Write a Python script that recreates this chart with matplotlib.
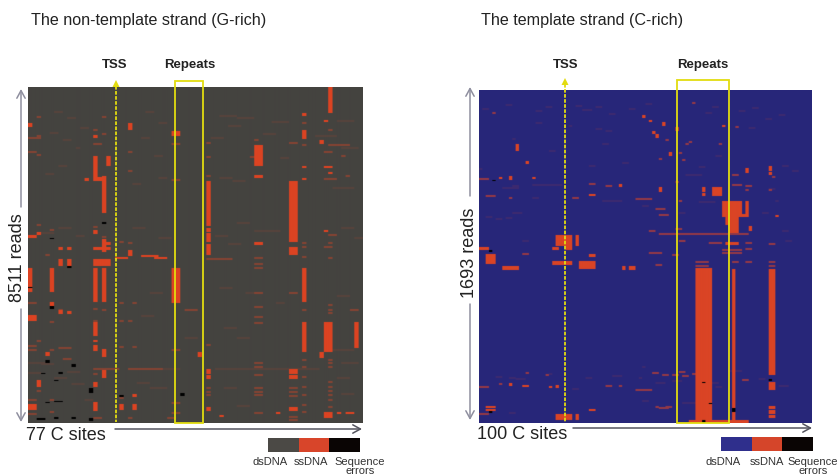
import numpy as np
import matplotlib
matplotlib.use("Agg")
import matplotlib.pyplot as plt
from matplotlib.colors import LinearSegmentedColormap
from matplotlib.patches import Rectangle

plt.rcParams['font.family'] = ['Liberation Sans', 'DejaVu Sans']

W, H = 838, 477

# non-template strand: 77 sites, reads binned to 336 rows
g_sites = 77
g_rows = 336
# first site, last site, first row, last row
g_blocks = [
    (0, 0, 36, 40), (15, 15, 48, 51), (15, 15, 69, 94), (15, 16, 90, 94), (17, 17, 89, 126),
    (18, 18, 69, 79), (13, 13, 91, 94), (23, 23, 36, 43), (33, 34, 44, 49),
    (0, 1, 148, 151), (2, 2, 145, 148), (15, 15, 143, 147), (17, 17, 152, 165), (15, 18, 160, 163),
    (18, 18, 155, 158), (7, 7, 160, 163), (9, 9, 160, 163), (23, 23, 163, 169), (20, 22, 170, 172),
    (26, 29, 168, 170), (29, 31, 170, 172),
    (0, 0, 181, 205), (5, 5, 181, 205), (15, 15, 181, 215), (17, 17, 181, 215), (33, 34, 181, 216),
    (15, 18, 172, 179), (7, 7, 172, 179), (9, 9, 172, 179), (5, 5, 215, 219), (7, 7, 223, 227),
    (9, 9, 224, 227), (0, 1, 228, 234), (15, 15, 235, 249), (15, 15, 253, 255), (15, 15, 258, 264),
    (17, 17, 262, 270), (4, 4, 265, 269), (2, 2, 293, 300), (15, 15, 295, 300), (17, 17, 283, 291),
    (0, 1, 317, 323), (15, 15, 315, 324), (21, 21, 317, 323), (24, 24, 317, 323), (24, 24, 307, 310),
    (39, 39, 265, 270), (41, 41, 94, 139), (41, 41, 141, 145), (41, 41, 146, 155), (41, 41, 157, 168),
    (41, 41, 282, 287), (41, 41, 288, 292), (41, 41, 320, 324),
    (52, 53, 58, 79), (52, 53, 88, 91), (52, 53, 155, 158),
    (60, 61, 94, 155), (60, 61, 160, 168), (60, 61, 282, 287), (60, 61, 288, 292), (60, 61, 320, 324),
    (63, 63, 26, 29), (63, 63, 43, 52), (63, 63, 79, 81), (63, 63, 91, 93), (63, 63, 181, 215),
    (63, 63, 235, 265), (69, 69, 0, 26), (68, 68, 33, 35), (67, 67, 53, 57), (68, 69, 79, 81),
    (69, 69, 85, 87), (68, 68, 143, 145), (68, 69, 235, 265), (67, 67, 265, 271), (75, 75, 235, 261),
    (68, 69, 325, 331), (71, 71, 325, 327), (73, 74, 325, 327), (57, 57, 325, 327), (44, 44, 328, 330),
]
# first site, last site, row: thin but clear lines
g_lines = [
    (2, 2, 29), (15, 15, 42), (15, 16, 56), (17, 17, 46), (17, 17, 29), (0, 1, 64), (2, 2, 67), (23, 23, 64),
    (23, 23, 83), (33, 34, 56), (33, 34, 92), (2, 2, 48), (0, 2, 50), (17, 17, 135), (15, 15, 139), (2, 2, 137),
    (5, 5, 142), (23, 23, 155), (21, 21, 154), (17, 17, 149), (4, 4, 167), (41, 41, 55), (41, 41, 69), (41, 41, 88),
    (52, 52, 52), (51, 51, 69), (60, 61, 55), (69, 73, 57), (68, 69, 64), (68, 70, 91), (73, 73, 88), (72, 72, 68),
    (63, 63, 35), (63, 63, 57), (69, 69, 42), (69, 70, 147), (68, 69, 159), (69, 69, 155), (69, 69, 170),
    (63, 63, 155), (63, 63, 159), (63, 63, 169), (52, 53, 170), (60, 61, 134), (60, 61, 143), (41, 46, 171),
    (0, 1, 215), (5, 5, 234), (7, 7, 222), (15, 15, 221), (15, 15, 233), (21, 21, 215), (24, 24, 215), (21, 21, 233),
    (23, 23, 233), (17, 17, 222), (2, 2, 253), (0, 1, 258), (0, 1, 262), (5, 5, 262), (7, 8, 260), (9, 9, 260),
    (21, 21, 259), (24, 24, 259), (33, 34, 262), (8, 9, 271), (15, 20, 281), (23, 30, 281), (36, 38, 222),
    (52, 53, 176), (52, 53, 180), (52, 53, 205), (52, 53, 219), (52, 53, 229), (52, 53, 235), (52, 53, 275), (52, 53, 279),
    (52, 53, 287), (52, 53, 300), (52, 53, 304), (52, 53, 307), (52, 53, 325), (60, 61, 205), (60, 61, 300), (60, 61, 304),
    (60, 61, 308), (60, 61, 329), (60, 61, 332), (63, 63, 222), (63, 63, 272), (63, 63, 279), (63, 63, 289), (63, 63, 299),
    (63, 63, 307), (63, 63, 317), (63, 63, 324), (69, 69, 217), (69, 69, 222), (69, 69, 225), (69, 69, 272), (69, 69, 275),
    (69, 69, 279), (69, 69, 294), (69, 69, 299), (69, 69, 303), (69, 69, 307), (69, 69, 312), (69, 69, 319), (74, 75, 222),
    (41, 41, 257), (41, 41, 300), (41, 41, 304), (41, 41, 307), (33, 34, 315), (33, 34, 325), (32, 33, 330), (23, 23, 330),
    (21, 21, 310), (0, 1, 312), (0, 1, 326), (5, 5, 324), (2, 2, 303), (5, 5, 312), (15, 15, 286), (15, 16, 330),
]
# first site, last site, row: faint traces
g_faint = [
    (6, 7, 24), (9, 10, 30), (12, 13, 40), (5, 6, 45), (8, 9, 52), (11, 11, 60), (7, 8, 78), (4, 5, 86), (27, 28, 24),
    (30, 31, 35), (26, 27, 50), (29, 30, 68), (24, 25, 96), (30, 31, 90), (44, 47, 28), (48, 51, 30), (42, 44, 50),
    (46, 48, 38), (56, 59, 34), (66, 70, 48), (71, 74, 33), (72, 75, 60), (54, 56, 46), (58, 59, 70), (44, 46, 90),
    (47, 49, 93), (48, 50, 135), (43, 45, 148), (52, 57, 143), (46, 48, 156), (70, 74, 100), (72, 74, 140), (75, 76, 150),
    (3, 5, 145), (7, 9, 140), (11, 12, 148), (24, 26, 140), (30, 32, 150), (44, 46, 200), (50, 52, 205), (57, 58, 215),
    (45, 47, 240), (48, 50, 250), (71, 73, 208), (70, 74, 262), (28, 30, 205), (26, 28, 228), (36, 38, 250), (43, 66, 281),
    (31, 34, 281), (72, 75, 275), (71, 73, 290), (45, 47, 300), (48, 50, 318), (25, 27, 295), (28, 31, 300), (9, 11, 284),
    (6, 8, 290), (3, 5, 276), (10, 12, 296), (13, 14, 312), (72, 74, 306), (0, 3, 275), (0, 2, 285),
]
g_errors = [
    (0, 0, 200, 201), (17, 17, 135, 137), (5, 5, 151, 152), (9, 9, 179, 181), (5, 5, 219, 222), (4, 4, 273, 276),
    (10, 10, 277, 280), (3, 3, 286, 287), (14, 14, 301, 306), (21, 21, 308, 310), (35, 35, 306, 309), (4, 4, 315, 316),
    (6, 7, 314, 315), (2, 3, 331, 333), (6, 6, 330, 332), (14, 14, 331, 334), (10, 10, 330, 332), (6, 6, 293, 294),
    (7, 7, 285, 287),
]

# template strand: 100 sites, reads binned to 333 rows
c_sites = 100
c_rows = 333
c_blocks = [
    (11, 11, 54, 61), (14, 14, 71, 74), (9, 9, 86, 90), (6, 6, 87, 89), (16, 16, 87, 89), (42, 42, 94, 97), (33, 34, 104, 106),
    (49, 49, 25, 28), (23, 27, 145, 156), (29, 29, 145, 156), (22, 23, 157, 160), (26, 27, 156, 160), (33, 34, 164, 167),
    (0, 2, 157, 160), (2, 4, 164, 174), (22, 27, 171, 175), (30, 34, 171, 179), (7, 11, 176, 180), (43, 43, 176, 180), (45, 46, 176, 180),
    (51, 51, 30, 32), (55, 55, 32, 36), (52, 52, 41, 44), (53, 53, 44, 48), (59, 59, 37, 41), (57, 57, 62, 66), (73, 73, 35, 37),
    (54, 54, 97, 102), (67, 67, 97, 102), (67, 67, 103, 106), (70, 72, 97, 106), (73, 78, 111, 127), (74, 77, 127, 135), (75, 77, 135, 143),
    (80, 80, 111, 127), (79, 80, 124, 127), (81, 81, 136, 141), (80, 80, 78, 83), (87, 87, 76, 81), (87, 87, 82, 85), (89, 89, 125, 127),
    (65, 69, 178, 333), (76, 76, 179, 318), (76, 76, 322, 333), (87, 88, 179, 285), (87, 88, 292, 300), (87, 88, 316, 319), (87, 88, 320, 324),
    (87, 88, 325, 328), (70, 80, 330, 333), (63, 64, 330, 333), (74, 77, 152, 155), (23, 27, 324, 330), (29, 29, 324, 330), (2, 4, 316, 318),
    (2, 4, 319, 321), (33, 34, 319, 321), (9, 9, 293, 296), (13, 14, 295, 297), (21, 21, 296, 298), (23, 23, 295, 298),
]
c_lines = [
    (4, 4, 22), (0, 2, 88), (33, 34, 93), (38, 39, 95), (2, 4, 105), (9, 9, 107), (47, 51, 108), (28, 29, 107), (56, 56, 49),
    (54, 54, 68), (60, 60, 62), (61, 61, 69), (62, 62, 53), (63, 63, 51), (64, 64, 12), (72, 72, 53), (77, 77, 36), (76, 77, 84),
    (54, 64, 143), (65, 69, 143), (70, 80, 143), (69, 72, 152), (73, 78, 159), (73, 78, 162), (65, 68, 171), (65, 68, 175), (76, 77, 171),
    (87, 88, 171), (87, 88, 175), (53, 54, 174), (13, 14, 163), (0, 2, 296), (6, 6, 293), (14, 14, 282), (20, 20, 284), (47, 51, 299),
    (42, 42, 295), (38, 39, 295), (0, 2, 323), (88, 88, 86), (80, 81, 95), (76, 78, 94), (80, 80, 99), (87, 87, 99), (54, 56, 124),
    (60, 60, 110), (59, 59, 91), (53, 55, 118), (59, 60, 138), (51, 52, 140), (80, 81, 152), (80, 81, 158), (87, 88, 153), (80, 81, 171),
    (60, 61, 150), (51, 54, 162), (58, 59, 164), (52, 53, 282), (55, 56, 284), (60, 61, 281), (61, 62, 285), (64, 64, 283), (79, 80, 289),
    (56, 57, 316), (53, 53, 316), (54, 56, 317), (58, 59, 284),
]
c_faint = [
    (1, 2, 18), (8, 9, 14), (17, 18, 20), (20, 21, 16), (29, 30, 15), (31, 33, 19), (35, 36, 16), (39, 40, 23), (45, 46, 18), (50, 51, 13),
    (7, 11, 97), (16, 24, 94), (37, 42, 110), (10, 12, 122), (27, 27, 35), (35, 36, 38), (38, 39, 40), (43, 44, 72), (33, 34, 75), (10, 10, 48),
    (17, 18, 32), (21, 22, 60), (37, 38, 53), (0, 0, 78), (5, 6, 128), (8, 9, 127), (13, 14, 150), (10, 11, 95), (16, 17, 107), (71, 72, 65),
    (66, 67, 76), (62, 66, 84), (81, 82, 37), (82, 83, 17), (78, 79, 20), (68, 69, 22), (70, 71, 16), (86, 87, 28), (91, 92, 75), (90, 91, 24),
    (85, 86, 122), (91, 92, 140), (87, 88, 98), (92, 93, 150), (89, 89, 110), (66, 70, 111), (60, 61, 122), (94, 95, 80), (2, 3, 126), (49, 50, 115),
    (5, 6, 286), (9, 10, 287), (11, 13, 288), (32, 33, 287), (40, 42, 285), (49, 49, 276), (48, 48, 287), (49, 50, 310), (28, 29, 298), (21, 21, 283),
    (75, 78, 280), (58, 60, 290), (70, 71, 292), (61, 64, 312), (9, 10, 322), (53, 55, 292), (71, 72, 296), (84, 85, 288), (90, 92, 295),
]
c_errors = [(4, 4, 90, 91), (3, 3, 160, 162), (3, 3, 321, 323), (67, 67, 330, 333), (76, 76, 318, 322), (87, 87, 289, 291), (69, 69, 313, 314), (67, 67, 292, 293)]

# pixel boxes of the two heat maps (left, top, right, bottom)
g_box = (28, 88, 363, 424)
c_box = (479, 91, 812, 424)

dark_cmap = LinearSegmentedColormap.from_list("g_map", ["#000000", "#444340", "#dc4322"])
blue_cmap = LinearSegmentedColormap.from_list("c_map", ["#000000", "#27267a", "#da4425"])


def build_matrix(rows, sites, blocks, lines, faint, errors, line_level):
    m = np.zeros((rows, sites))
    for a, b, r in faint:
        m[r:r + 2, a:b + 1] = 0.12
    for a, b, r in lines:
        m[r:r + 2, a:b + 1] = line_level
    for a, b, r0, r1 in blocks:
        m[r0:r1, a:b + 1] = 1
    for a, b, r0, r1 in errors:
        m[r0:r1, a:b + 1] = -1
    return m


def draw_map(fig, box, matrix, cmap, rep):
    left, top, right, bottom = box
    ax = fig.add_axes([left / W, 1 - bottom / H, (right - left) / W, (bottom - top) / H])
    # repeat the columns so the blur stays about one pixel wide
    ax.imshow(np.repeat(matrix, rep, axis=1), cmap=cmap, vmin=-1, vmax=1, aspect='auto',
              interpolation='gaussian', filterrad=1.1)
    ax.set_xticks([])
    ax.set_yticks([])
    for s in ax.spines.values():
        s.set_visible(False)
    return ax


fig = plt.figure(figsize=(W / 100, H / 100), dpi=100)

draw_map(fig, g_box, build_matrix(g_rows, g_sites, g_blocks, g_lines, g_faint, g_errors, 0.42), dark_cmap, 4)
draw_map(fig, c_box, build_matrix(c_rows, c_sites, c_blocks, c_lines, c_faint, c_errors, 0.6), blue_cmap, 3)

# overlay in reference pixels for labels, arrows and yellow marks
ov = fig.add_axes([0, 0, 1, 1], facecolor='none')
ov.set_xlim(0, W)
ov.set_ylim(H, 0)
ov.axis('off')

yellow = "#e2dc10"
ov.add_patch(Rectangle((174.5, 81.5), 28.5, 342.5, fill=False, ec=yellow, lw=1.3))
ov.add_patch(Rectangle((676.5, 80.5), 52.5, 343.5, fill=False, ec=yellow, lw=1.3))
for x, top in [(116, 87), (565, 85)]:
    ov.plot([x, x], [top, 423], color=yellow, lw=1.3, ls=(0, (2, 0.8)))
    ov.fill([x - 3.5, x + 3.5, x], [top + 1, top + 1, top - 6], color=yellow, lw=0)

arrow_col = "#8f8f9f"
tip_col = "#55555f"


def arrow_line(x0, y0, x1, y1, col=arrow_col):
    ov.annotate("", xy=(x1, y1), xytext=(x0, y0),
                arrowprops=dict(arrowstyle="->,head_width=0.3,head_length=0.55", color=col, lw=1.1, shrinkA=0, shrinkB=0))


arrow_line(21, 208, 21, 90)
arrow_line(21, 310, 21, 423)
arrow_line(470, 197, 470, 88)
arrow_line(470, 305, 470, 421)
arrow_line(115, 430, 362, 430, tip_col)
arrow_line(573, 429, 812, 429, tip_col)

ov.text(31, 20, "The non-template strand (G-rich)", fontsize=11.6, color="#222222", va='center')
ov.text(481, 20, "The template strand (C-rich)", fontsize=11.6, color="#222222", va='center')
for x, s in [(115, "TSS"), (189.5, "Repeats"), (566, "TSS"), (703, "Repeats")]:
    ov.text(x, 65, s, fontsize=9.5, fontweight='bold', ha='center', va='center', color="#222222")

ov.text(18, 258, "8511 reads", fontsize=13, rotation=90, ha='center', va='center', color="#222222")
ov.text(469, 253, "1693 reads", fontsize=13, rotation=90, ha='center', va='center', color="#222222")
ov.text(26, 436, "77 C sites", fontsize=13, va='center', color="#222222")
ov.text(477, 435, "100 C sites", fontsize=13, va='center', color="#222222")

# legend strips
g_legend = ["#4b4945", "#d8452a", "#0a0504"]
c_legend = ["#2f2f8c", "#d5452a", "#0a0504"]
for x0, cols, ypos in [(268, g_legend, 439), (721, c_legend, 438)]:
    for i, col in enumerate(cols):
        ov.add_patch(Rectangle((x0 + i * 30.5, ypos), 30.5, 13.5, fc=col, ec='none'))

legend_labels = ["dsDNA", "ssDNA", "Sequence", "errors"]
for xs in [(270, 311, 360, 360), (723, 767, 813, 813)]:
    for x, s, y in zip(xs, legend_labels, (462, 462, 462, 471.5)):
        ov.text(x, y, s, fontsize=8, ha='center', va='center', color="#333333")

fig.savefig("out.png", dpi=100)
